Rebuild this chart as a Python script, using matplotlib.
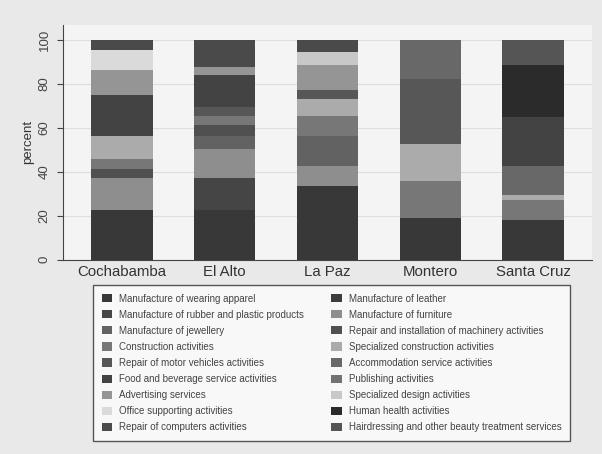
import numpy as np
import matplotlib
matplotlib.use("Agg")
import matplotlib.pyplot as plt
from matplotlib.patches import Patch

plt.rcParams["font.family"] = ["Liberation Sans", "DejaVu Sans"]

cities = ["Cochabamba", "El Alto", "La Paz", "Montero", "Santa Cruz"]

# stack order = legend order read row by row
categories = [
    "Manufacture of wearing apparel",
    "Manufacture of leather",
    "Manufacture of rubber and plastic products",
    "Manufacture of furniture",
    "Manufacture of jewellery",
    "Repair and installation of machinery activities",
    "Construction activities",
    "Specialized construction activities",
    "Repair of motor vehicles activities",
    "Accommodation service activities",
    "Food and beverage service activities",
    "Publishing activities",
    "Advertising services",
    "Specialized design activities",
    "Office supporting activities",
    "Human health activities",
    "Repair of computers activities",
    "Hairdressing and other beauty treatment services",
]

grays = ["#383838", "#3d3d3d", "#454545", "#8e8e8e", "#626262", "#505050",
         "#777777", "#ababab", "#575757", "#686868", "#434343", "#727272",
         "#959595", "#c8c8c8", "#dadada", "#2b2b2b", "#4a4a4a", "#555555"]

cochabamba = [22.7, 0, 0, 14.5, 0, 4.1, 4.3, 10.8, 0, 0, 18.3, 0, 11.5, 0, 9.2, 0, 4.6, 0]
el_alto    = [22.7, 0, 14.5, 13.0, 6.2, 4.9, 4.2, 0, 3.9, 0, 14.5, 0, 3.8, 0, 0, 0, 12.3, 0]
la_paz     = [33.4, 0, 0, 9.2, 13.8, 0, 9.1, 7.7, 3.8, 0, 0, 0, 11.5, 6.1, 0, 0, 5.4, 0]
montero    = [18.8, 0, 0, 0, 0, 0, 16.9, 16.8, 29.9, 17.6, 0, 0, 0, 0, 0, 0, 0, 0]
santa_cruz = [18.1, 0, 0, 0, 0, 0, 9.2, 2.3, 0, 13.0, 22.2, 0, 0, 0, 0, 23.7, 0, 11.5]

shares = np.array([cochabamba, el_alto, la_paz, montero, santa_cruz])

W, H = 602, 454
fig = plt.figure(figsize=(W / 100, H / 100), dpi=100)
fig.patch.set_facecolor("#e9e9e9")
ax = fig.add_axes([63 / W, 1 - 259.5 / H, 529 / W, 234.5 / H])
ax.set_facecolor("#f4f4f4")

x = np.arange(len(cities))
bottom = np.zeros(len(cities))
for k in range(len(categories)):
    ax.bar(x, shares[:, k], 0.6, bottom=bottom, color=grays[k], lw=0, zorder=2)
    bottom += shares[:, k]

ax.set_xlim(-0.57, 4.57)
ax.set_ylim(0, 106.8)
ax.set_yticks([0, 20, 40, 60, 80, 100])
ax.set_yticklabels(["0", "20", "40", "60", "80", "100"], rotation=90, va="center")
ax.set_xticks(x)
ax.set_xticklabels(cities, fontsize=10.8, color="#333333")
ax.tick_params(axis="x", length=0, pad=4)
ax.tick_params(axis="y", length=4, labelsize=9.5, colors="#444444", pad=5)
ax.set_ylabel("percent", fontsize=9.5, color="#333333", labelpad=3)
ax.grid(axis="y", color="#dedede", lw=0.8, zorder=0)
for s in ["top", "right"]:
    ax.spines[s].set_visible(False)
for s in ["left", "bottom"]:
    ax.spines[s].set_color("#444444")

# legend: matplotlib fills columns first, so reorder to read row by row
order = list(range(0, 18, 2)) + list(range(1, 18, 2))
handles = [Patch(facecolor=grays[i], edgecolor="none") for i in order]
labels = [categories[i] for i in order]
leg = fig.legend(handles, labels, ncol=2, loc="upper left",
                 bbox_to_anchor=(93 / W, 1 - 285 / H),
                 fontsize=7, frameon=True, fancybox=False,
                 edgecolor="#555555", facecolor="#f8f8f8", framealpha=1,
                 handlelength=1.1, handleheight=0.9, handletextpad=0.7,
                 labelspacing=0.62, borderaxespad=0, columnspacing=2.8,
                 borderpad=0.9)
leg.get_frame().set_linewidth(1.0)
for t in leg.get_texts():
    t.set_color("#444444")

fig.savefig("out.png", dpi=100, facecolor=fig.get_facecolor())
